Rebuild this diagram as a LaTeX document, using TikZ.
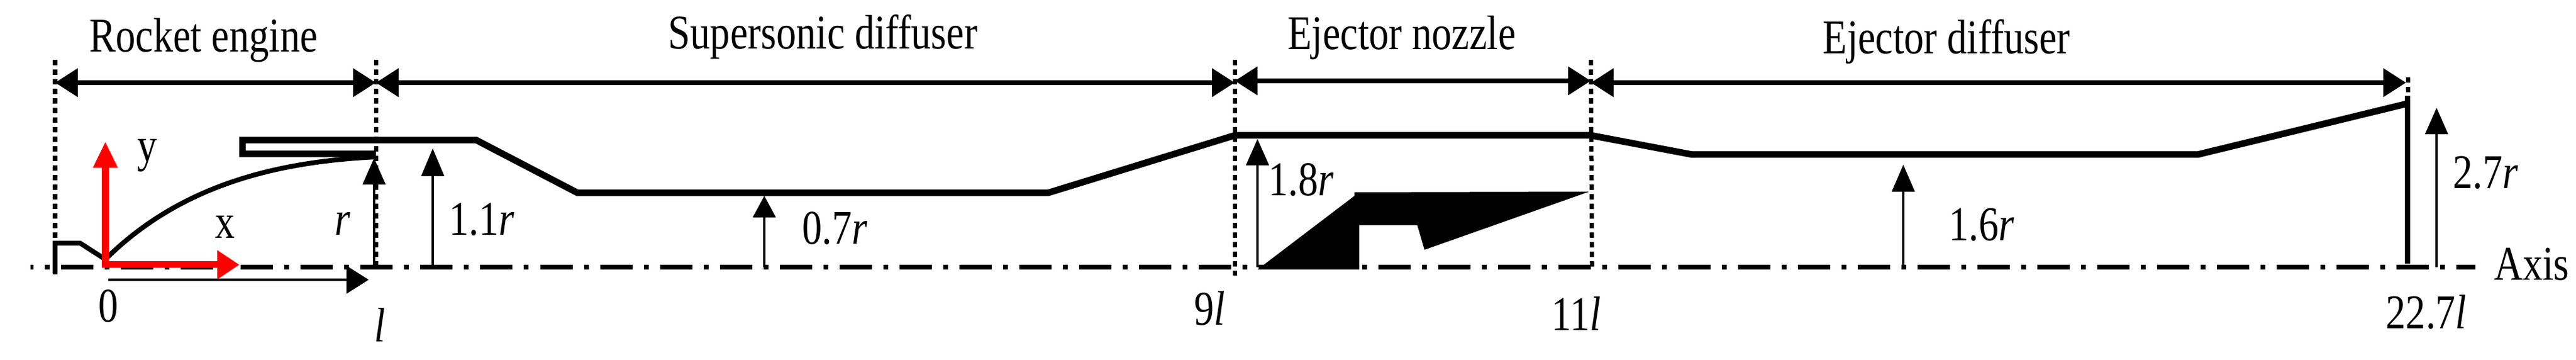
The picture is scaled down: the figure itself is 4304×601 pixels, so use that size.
\documentclass[tikz,border=0pt]{standalone}
\usepackage{fontspec}
\setmainfont[FakeStretch=0.82]{Liberation Serif}
\usepackage{tikz}
\usetikzlibrary{positioning}
\usetikzlibrary{arrows.meta}
\definecolor{axisred}{RGB}{255,0,0}
\tikzset{
	label text/.style={inner sep=0pt, anchor=base, font=\fontsize{23}{25}\selectfont},
	wall line/.style={line width=0.11cm, line join=miter},
	section line/.style={line width=0.083cm, {Triangle[length=0.38cm,width=0.46cm]}-{Triangle[length=0.38cm,width=0.46cm]}},
	height line/.style={line width=0.032cm},
	station line/.style={line width=0.07cm, dash pattern=on 0.09cm off 0.07cm},
	axis line/.style={line width=0.085cm, dash pattern=on 0.54cm off 0.19cm on 0.08cm off 0.19cm, dash phase=0.49cm},
	frame line/.style={axisred, line width=0.11cm},
}
\begin{document}
\begin{tikzpicture}[x=0.01cm, y=-0.01cm]
	\useasboundingbox (0,0) rectangle (4304,601);
	% stations along the axis
	\coordinate (top-a) at (92,100);
	\coordinate (top-b) at (628,100);
	\coordinate (top-c) at (2063,100);
	\coordinate (top-d) at (2658,100);
	\coordinate (top-e) at (4023,129);
	\coordinate (foot-a) at (92,458);
	\coordinate (foot-b) at (628,446);
	\coordinate (foot-c) at (2063,460);
	\coordinate (foot-d) at (2660,446);
	\coordinate (foot-e) at (4023,160);
	\coordinate (axis-start) at (51,446);
	\coordinate (axis-end) at (4136,446);
	% dotted station lines
	\foreach \i in {a,b,c,d,e} {
		\draw[station line] (top-\i) -- (foot-\i);
	}
	\draw[axis line] (axis-start) -- (axis-end);
	% section arrows
	\coordinate (sec-a) at (92,138);
	\coordinate (sec-b) at (628,138);
	\coordinate (sec-c) at (2063,138);
	\coordinate (sec-c2) at (2063,135);
	\coordinate (sec-d) at (2658,135);
	\coordinate (sec-d2) at (2658,138);
	\coordinate (sec-e) at (4020,138);
	\draw[section line] (sec-a) -- (sec-b);
	\draw[section line] (sec-b) -- (sec-c);
	\draw[section line] (sec-c2) -- (sec-d);
	\draw[section line] (sec-d2) -- (sec-e);
	\node[label text] (rocket) at (340,87) {Rocket engine};
	\node[label text] (supersonic) at (1375,82) {Supersonic diffuser};
	\node[label text] (nozzle) at (2342,83) {Ejector nozzle};
	\node[label text] (diffuser) at (3252,90) {Ejector diffuser};
	% duct walls
	\draw[wall line] (628,257) -- (405,257) -- (405,234) -- (796,234) -- (965,322) -- (1751,322) -- (2063,226) -- (2658,226) -- (2827,258) -- (3672,258) -- (4022,173);
	\draw[wall line, line width=0.09cm] (4022,160) -- (4022,440);
	\draw[wall line, line width=0.08cm] (92,456) -- (92,406) -- (134,406) -- (176,433) .. controls (300,310) and (460,270) .. (628,262);
	% ejector body
	\fill (2101,450) -- (2263,327) -- (2263,321) -- (2655,320) -- (2380,417) -- (2368,376) -- (2271,376) -- (2271,450) -- cycle;
	% height arrows
	\foreach \n/\px/\tip/\len in {r/625/264/0.44, a/723/248/0.46, b/1277/327/0.36, c/2101/232/0.44, d/3180/275/0.45, e/4071/180/0.44} {
		\coordinate (foot-\n) at (\px,446);
		\coordinate (tip-\n) at (\px,\tip);
		\draw[height line, -{Triangle[length=\len cm,width=0.38cm]}] (foot-\n) -- (tip-\n);
	}
	\coordinate (len-start) at (181,467);
	\coordinate (len-end) at (616,467);
	\draw[height line, -{Triangle[length=0.37cm,width=0.46cm]}] (len-start) -- (len-end);
	% red frame
	\coordinate (origin) at (176,442);
	\coordinate (frame-x) at (400,442);
	\coordinate (frame-y) at (176,236);
	\draw[frame line, -{Triangle[length=0.37cm,width=0.46cm]}] ([xshift=-0.055cm]origin) -- (frame-x);
	\draw[frame line, -{Triangle[length=0.44cm,width=0.38cm]}] ([yshift=-0.055cm]origin) -- (frame-y);
	\node[label text] (label-y) at (246,270) {y};
	\node[label text] (label-x) at (376,398) {x};
	% dimension labels
	\node[label text] (label-r) at (572,393) {\textit{r}};
	\node[label text] (label-a) at (805,393) {1.1\textit{r}};
	\node[label text] (label-b) at (1395,408) {0.7\textit{r}};
	\node[label text] (label-c) at (2174,327) {1.8\textit{r}};
	\node[label text] (label-d) at (3311,402) {1.6\textit{r}};
	\node[label text] (label-e) at (4153,315) {2.7\textit{r}};
	\node[label text] (label-0) at (181,538) {0};
	\node[label text] (label-l) at (635,571) {\textit{l}};
	\node[label text] (label-9l) at (2021,543) {9\textit{l}};
	\node[label text] (label-11l) at (2634,552) {11\textit{l}};
	\node[label text] (label-22l) at (4054,549) {22.7\textit{l}};
	\node[label text] (label-axis) at (4230,468) {Axis};
\end{tikzpicture}
\end{document}
